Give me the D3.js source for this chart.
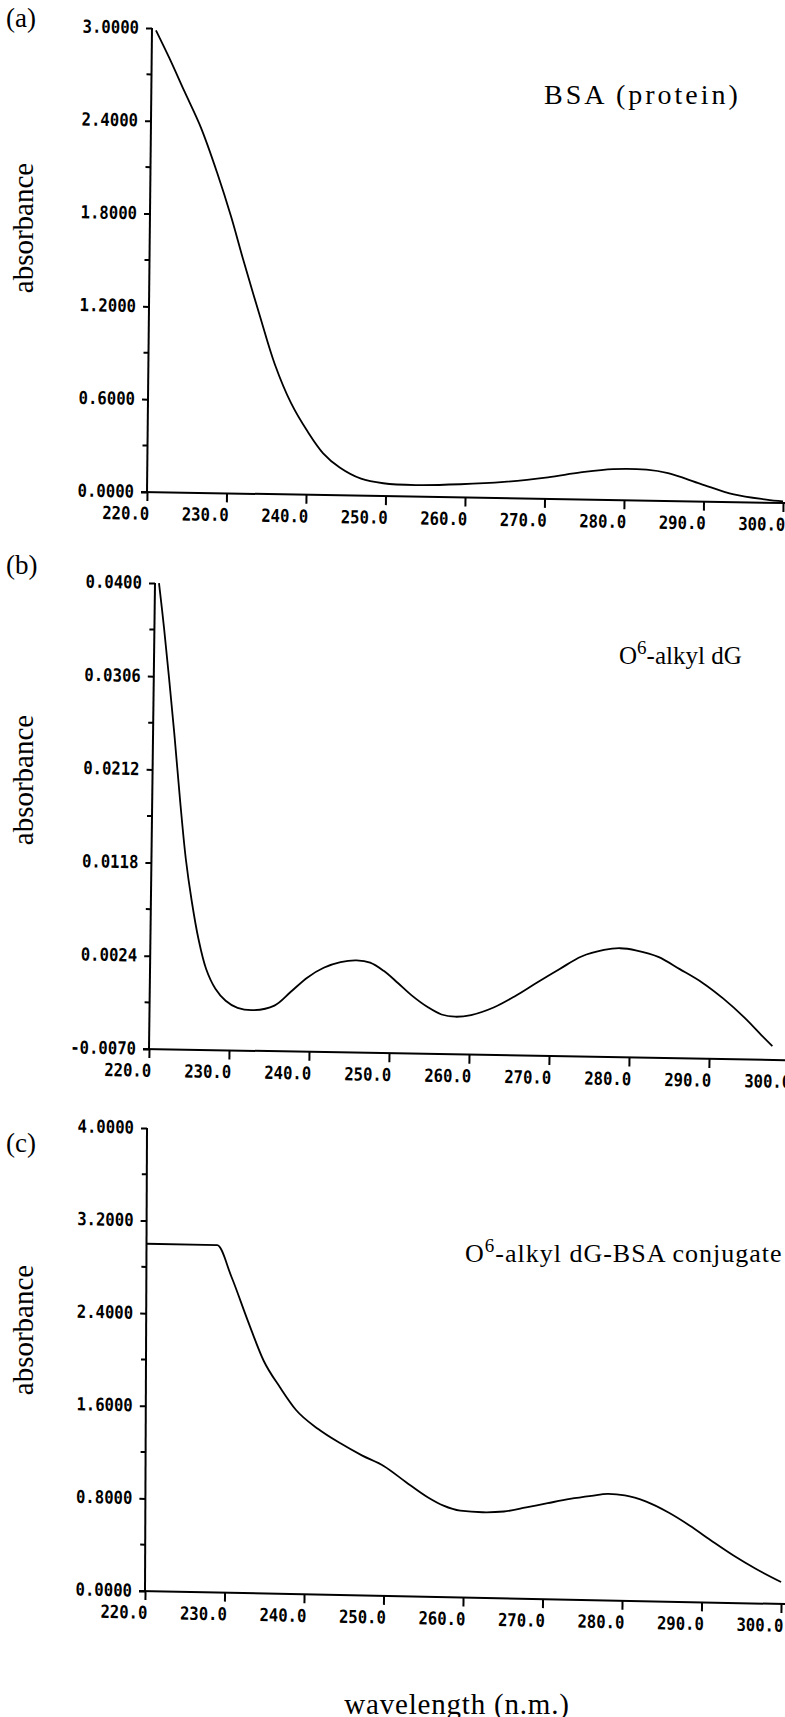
<!DOCTYPE html>
<html><head><meta charset="utf-8">
<script src="https://cdn.jsdelivr.net/npm/d3@7"></script>
<style>body{margin:0;background:#fff}svg{display:block}</style>
</head><body><svg id="chart" width="785" height="1717"></svg>
<script>
// ---------- data ----------
const xTicks = [220, 230, 240, 250, 260, 270, 280, 290, 300];
const xTickLabels = ["220.0", "230.0", "240.0", "250.0", "260.0", "270.0", "280.0", "290.0", "300.0"];

const yTicksA = [0, 0.6, 1.2, 1.8, 2.4, 3.0];
const yTickLabelsA = ["0.0000", "0.6000", "1.2000", "1.8000", "2.4000", "3.0000"];
const yTicksB = [-0.0070, 0.0024, 0.0118, 0.0212, 0.0306, 0.0400];
const yTickLabelsB = ["-0.0070", "0.0024", "0.0118", "0.0212", "0.0306", "0.0400"];
const yTicksC = [0, 0.8, 1.6, 2.4, 3.2, 4.0];
const yTickLabelsC = ["0.0000", "0.8000", "1.6000", "2.4000", "3.2000", "4.0000"];

const bsaWavelength = [220.5, 222.2, 224.2, 226.3, 228.4, 230.2, 231.8, 233.9, 235.9, 238.0, 240.1, 242.1, 244.2, 246.9, 249.7, 253.8, 259.4, 264.9, 270.4, 274.5, 278.6, 282.8, 285.5, 289.6, 293.8, 297.9, 300.0];
const bsaAbsorbance = [2.985, 2.81, 2.59, 2.36, 2.07, 1.79, 1.51, 1.16, 0.84, 0.59, 0.41, 0.27, 0.18, 0.11, 0.083, 0.075, 0.085, 0.105, 0.14, 0.175, 0.2, 0.2, 0.18, 0.115, 0.05, 0.02, 0.01];

const dgWavelength = [220.5, 221.2, 221.9, 222.7, 223.5, 224.3, 225.1, 226.0, 227.0, 228.2, 229.5, 231.0, 233.0, 235.6, 237.6, 239.7, 241.7, 243.8, 245.8, 247.5, 249.2, 251.0, 252.7, 254.8, 256.5, 258.2, 260.2, 263.0, 265.7, 268.4, 271.2, 273.9, 276.7, 278.7, 280.8, 283.5, 286.2, 289.0, 291.7, 294.4, 296.5, 297.9];
const dgAbsorbance = [0.0400, 0.0355, 0.0305, 0.0245, 0.0180, 0.0122, 0.0080, 0.0042, 0.0012, -0.0008, -0.0020, -0.0027, -0.0029, -0.0024, -0.0010, 0.0005, 0.0015, 0.0021, 0.0023, 0.0021, 0.0013, 0.0001, -0.0011, -0.0023, -0.0030, -0.0032, -0.0030, -0.0022, -0.0010, 0.0004, 0.0018, 0.0031, 0.0038, 0.0040, 0.0038, 0.0032, 0.0020, 0.0007, -0.0009, -0.0028, -0.0045, -0.0056];

const conjWavelength = [220.0, 228.9, 230.7, 232.8, 234.8, 236.9, 238.9, 241.7, 244.5, 247.2, 250.0, 252.7, 255.5, 257.5, 259.6, 262.4, 265.1, 267.9, 270.6, 273.4, 276.1, 278.2, 280.3, 283.0, 285.8, 288.5, 291.3, 294.0, 296.8, 300.0];
const conjAbsorbance = [3.0, 3.0, 2.73, 2.35, 2.01, 1.78, 1.59, 1.43, 1.31, 1.21, 1.12, 0.99, 0.86, 0.79, 0.75, 0.74, 0.75, 0.79, 0.83, 0.87, 0.90, 0.92, 0.91, 0.86, 0.77, 0.66, 0.53, 0.41, 0.30, 0.19];

const panelTags = ["(a)", "(b)", "(c)"];
const yAxisTitle = "absorbance";
const xAxisTitle = "wavelength (n.m.)";

// ---------- layout (scan is slightly rotated: each panel is drawn in a skewed frame) ----------
const svg = d3.select("#chart");
const layout = [
  {e: 152, f: 28,   W: 636, H: 464, b: 11 / 636,  c: -5 / 464, tagY: 27,   titleY: 228, curve: d3.curveCatmullRom.alpha(0.5)},
  {e: 155, f: 583,  W: 640, H: 466, b: 11.3 / 640, c: -6 / 466, tagY: 574,  titleY: 780, curve: d3.curveCatmullRom.alpha(0.5)},
  {e: 147, f: 1128, W: 636, H: 463, b: 13 / 636,  c: -2 / 463, tagY: 1152, titleY: 1330, curve: d3.curveMonotoneX}
];
const series = [
  {x: bsaWavelength, y: bsaAbsorbance, ticks: yTicksA, labels: yTickLabelsA, dom: [0, 3.0]},
  {x: dgWavelength, y: dgAbsorbance, ticks: yTicksB, labels: yTickLabelsB, dom: [-0.0070, 0.0400]},
  {x: conjWavelength, y: conjAbsorbance, ticks: yTicksC, labels: yTickLabelsC, dom: [0, 4.0]}
];

const tickFont = "'DejaVu Sans Mono', monospace";
const serif = "'Liberation Serif', 'DejaVu Serif', serif";

series.forEach((s, i) => {
  const L = layout[i];
  const g = svg.append("g")
    .attr("transform", `matrix(1 ${L.b} ${L.c} 1 ${L.e} ${L.f})`);
  const x = d3.scaleLinear().domain([220, 300]).range([0, L.W]);
  const y = d3.scaleLinear().domain(s.dom).range([L.H, 0]);

  // y axis
  const yAxis = d3.axisLeft(y).tickValues(s.ticks).tickSize(6).tickFormat((d, k) => s.labels[k]);
  const gy = g.append("g").call(yAxis);
  gy.select(".domain").attr("d", `M0,0V${L.H}`).attr("stroke", "#000").attr("stroke-width", 2);
  gy.selectAll(".tick line").attr("stroke", "#000").attr("stroke-width", 2);
  gy.selectAll(".tick text")
    .attr("x", -13).attr("dy", "0.3em")
    .attr("font-family", tickFont).attr("font-weight", "bold").attr("font-size", 18)
    .attr("fill", "#000")
    .attr("textLength", (d, k) => s.labels[k].length * 9.4)
    .attr("lengthAdjust", "spacingAndGlyphs");
  // minor y ticks
  const minors = d3.pairs(s.ticks).map(p => (p[0] + p[1]) / 2);
  g.append("g").selectAll("line").data(minors).join("line")
    .attr("x1", -5).attr("x2", 0)
    .attr("y1", d => y(d)).attr("y2", d => y(d))
    .attr("stroke", "#000").attr("stroke-width", 2);

  // x axis
  const xAxis = d3.axisBottom(x).tickValues(xTicks).tickSize(9).tickFormat((d, k) => xTickLabels[k]);
  const gx = g.append("g").attr("transform", `translate(0,${L.H})`).call(xAxis);
  gx.select(".domain").attr("d", `M-6,0H${L.W + 10}`).attr("stroke", "#000").attr("stroke-width", 2);
  gx.selectAll(".tick line").attr("stroke", "#000").attr("stroke-width", 2);
  gx.selectAll(".tick text")
    .attr("text-anchor", "end").attr("x", 2).attr("y", 15).attr("dy", "0.71em")
    .attr("font-family", tickFont).attr("font-weight", "bold").attr("font-size", 18)
    .attr("fill", "#000")
    .attr("textLength", 47).attr("lengthAdjust", "spacingAndGlyphs");

  // curve
  const pts = s.x.map((v, k) => [v, s.y[k]]);
  g.append("path").datum(pts)
    .attr("fill", "none").attr("stroke", "#000").attr("stroke-width", 1.8)
    .attr("d", d3.line().x(d => x(d[0])).y(d => y(d[1])).curve(L.curve));

  // panel tag and axis title
  svg.append("text").attr("x", 6).attr("y", L.tagY)
    .attr("font-family", serif).attr("font-size", 27).text(panelTags[i]);
  svg.append("text")
    .attr("transform", `translate(33,${L.titleY}) rotate(-90)`)
    .attr("text-anchor", "middle")
    .attr("font-family", serif).attr("font-size", 29).text(yAxisTitle);
});

// sample labels
svg.append("text").attr("x", 544).attr("y", 104)
  .attr("font-family", serif).attr("font-size", 28).attr("letter-spacing", 3.0)
  .text("BSA (protein)");

const t2 = svg.append("text").attr("x", 619).attr("y", 664)
  .attr("font-family", serif).attr("font-size", 25);
t2.append("tspan").text("O");
t2.append("tspan").attr("dy", -10).attr("font-size", 19).text("6");
t2.append("tspan").attr("dy", 10).text("-alkyl dG");

const t3 = svg.append("text").attr("x", 465).attr("y", 1262)
  .attr("font-family", serif).attr("font-size", 26).attr("letter-spacing", 1.0);
t3.append("tspan").text("O");
t3.append("tspan").attr("dy", -10).attr("font-size", 19).text("6");
t3.append("tspan").attr("dy", 10).text("-alkyl dG-BSA conjugate");

svg.append("text").attr("x", 457).attr("y", 1714)
  .attr("text-anchor", "middle")
  .attr("font-family", serif).attr("font-size", 29).attr("letter-spacing", 0.8)
  .text(xAxisTitle);
</script>
</body></html>
